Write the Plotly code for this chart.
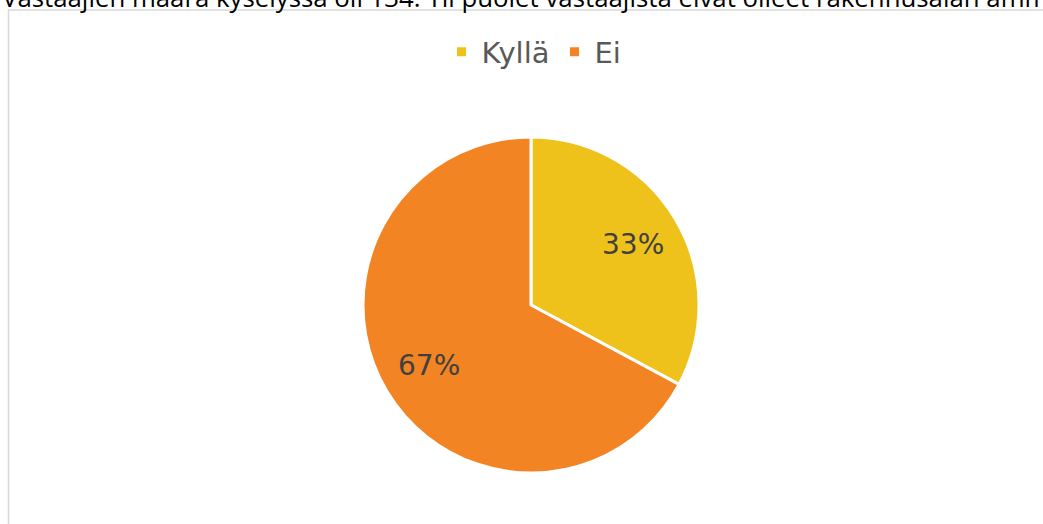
import math
import plotly.graph_objects as go

# Survey answers (134 respondents)
answers = ["Kyllä", "Ei"]
counts = [44, 90]
slice_colors = ["#EEC21B", "#F38424"]
intro_text = ("Vastaajien määrä kyselyssä oli 134. Yli puolet vastaajista "
              "eivät olleet rakennusalan ammattilaisia")

W, H = 1043, 524
cx, cy, r = 531, 305, 166  # pie centre / radius in pixels


def px(x):
    return x / W


def py(y):
    return 1 - y / H


fig = go.Figure()
fig.add_trace(go.Pie(
    labels=answers,
    values=counts,
    sort=False,
    direction="clockwise",
    rotation=0,
    marker=dict(colors=slice_colors, line=dict(color="white", width=3)),
    textinfo="none",
    hoverinfo="label+percent",
    domain=dict(x=[px(cx - r - 2), px(cx + r + 2)],
                y=[py(cy + r + 2), py(cy - r - 2)]),
))

# Percentage labels placed along each slice's bisector
total = sum(counts)
start = 0.0
annotations = []
for n in counts:
    frac = n / total
    mid = (start + frac / 2) * 2 * math.pi
    lx = cx + 0.715 * r * math.sin(mid)
    ly = cy - 0.715 * r * math.cos(mid)
    annotations.append(dict(
        x=px(lx), y=py(ly), xref="paper", yref="paper",
        text=f"{round(frac * 100)}%", showarrow=False,
        font=dict(family="DejaVu Sans", size=28, color="#404040"),
        xanchor="center", yanchor="middle",
    ))
    start += frac

# Running text above the chart frame
annotations.append(dict(
    x=0, y=py(17), xref="paper", yref="paper", text=intro_text,
    showarrow=False, xanchor="left", yanchor="bottom",
    font=dict(family="Open Sans", size=25.8, color="#000000"),
))

fig.update_layout(
    width=W, height=H,
    margin=dict(l=0, r=0, t=0, b=0),
    paper_bgcolor="white",
    plot_bgcolor="white",
    showlegend=True,
    legend=dict(
        orientation="h", x=px(534), xanchor="center",
        y=py(52), yanchor="middle",
        font=dict(family="DejaVu Sans", size=29, color="#595959"),
        itemclick=False, itemdoubleclick=False,
    ),
    annotations=annotations,
    shapes=[dict(
        type="rect", xref="paper", yref="paper",
        x0=px(8.5), x1=1.05, y0=-0.05, y1=py(10),
        line=dict(color="#D9D9D9", width=1.5), layer="below",
    )],
)

fig.write_html("out.html")
